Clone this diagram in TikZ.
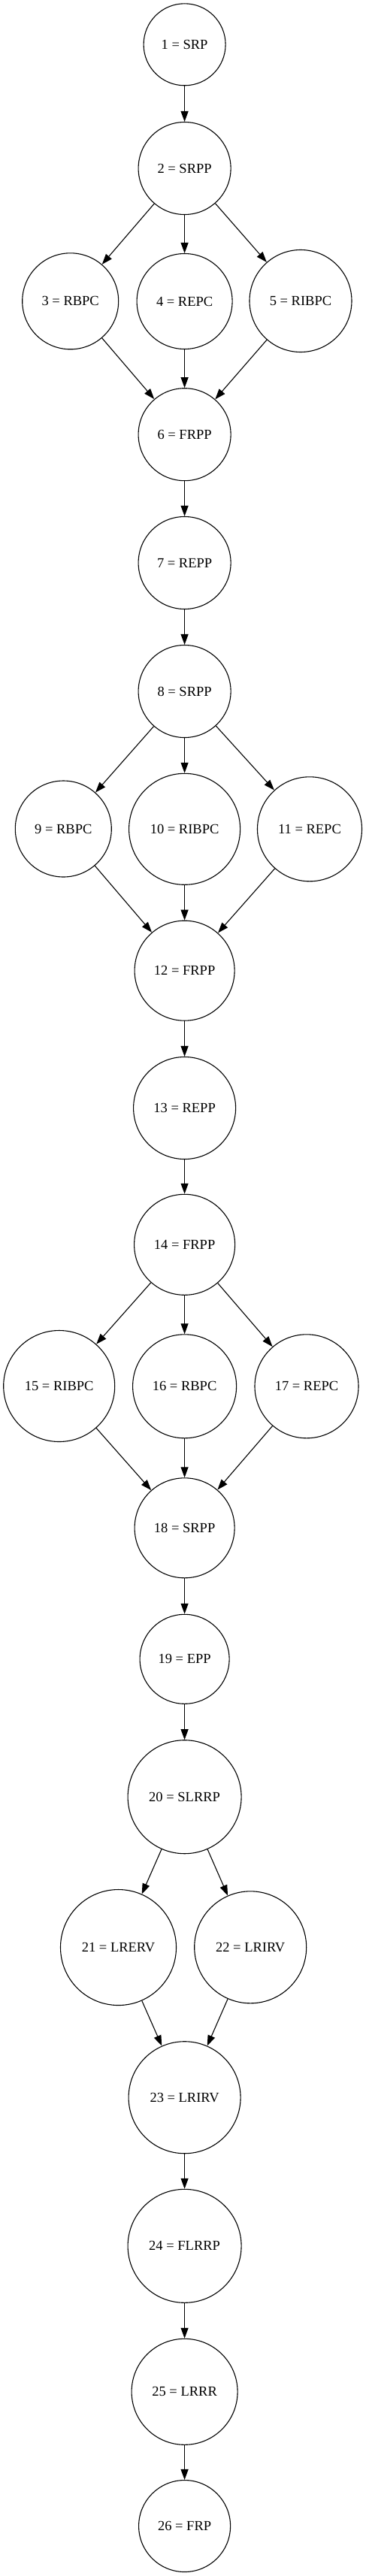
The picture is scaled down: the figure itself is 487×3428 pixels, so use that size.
\documentclass[tikz,border=0pt]{standalone}
\usepackage{fontspec}
\setmainfont{Liberation Serif}
\usetikzlibrary{arrows.meta}

\begin{document}
\begin{tikzpicture}[x=1pt,y=-1pt]
      \useasboundingbox (0,0) rectangle (487,3428);
      \begin{scope}[every node/.style={circle,draw,line width=1.1pt,inner sep=0pt,
          font=\fontsize{18.5}{22}\selectfont}]
        \node[minimum size=109pt] (1) at (245.6,59.3) {1 = SRP};
        \node[minimum size=123pt] (2) at (245.6,224) {2 = SRPP};
        \node[minimum size=128pt] (3) at (93.7,400.8) {3 = RBPC};
        \node[minimum size=127pt] (4) at (245.6,401) {4 = REPC};
        \node[minimum size=136pt] (5) at (400,400.5) {5 = RIBPC};
        \node[minimum size=123pt] (6) at (245.6,578.2) {6 = FRPP};
        \node[minimum size=123pt] (7) at (245.6,749) {7 = REPP};
        \node[minimum size=123pt] (8) at (245.6,920) {8 = SRPP};
        \node[minimum size=128pt] (9) at (84.3,1103) {9 = RBPC};
        \node[minimum size=148pt] (10) at (245.6,1103.3) {10 = RIBPC};
        \node[minimum size=139pt] (11) at (412,1103.3) {11 = REPC};
        \node[minimum size=133pt] (12) at (245.6,1291.7) {12 = FRPP};
        \node[minimum size=136pt] (13) at (245.6,1474.5) {13 = REPP};
        \node[minimum size=134pt] (14) at (245.6,1656.3) {14 = FRPP};
        \node[minimum size=148pt] (15) at (78.7,1844.5) {15 = RIBPC};
        \node[minimum size=138pt] (16) at (245.6,1844.8) {16 = RBPC};
        \node[minimum size=138pt] (17) at (408,1844.8) {17 = REPC};
        \node[minimum size=133pt] (18) at (245.6,2033.3) {18 = SRPP};
        \node[minimum size=119pt] (19) at (245.6,2207.8) {19 = EPP};
        \node[minimum size=151pt] (20) at (245.6,2391.2) {20 = SLRRP};
        \node[minimum size=154pt] (21) at (157.5,2591.5) {21 = LRERV};
        \node[minimum size=149pt] (22) at (333.2,2591.3) {22 = LRIRV};
        \node[minimum size=149pt] (23) at (245.6,2791.2) {23 = LRIRV};
        \node[minimum size=151pt] (24) at (245.6,2988.8) {24 = FLRRP};
        \node[minimum size=141pt] (25) at (245.6,3182.8) {25 = LRRR};
        \node[minimum size=122pt] (26) at (245.6,3361.5) {26 = FRP};
      \end{scope}
      \begin{scope}[every edge/.style={draw,line width=1.1pt,-{Triangle[length=14pt,width=10pt]}}]
        \path (1) edge (2);
        \path (2) edge (3);
        \path (2) edge (4);
        \path (2) edge (5);
        \path (3) edge (6);
        \path (4) edge (6);
        \path (5) edge (6);
        \path (6) edge (7);
        \path (7) edge (8);
        \path (8) edge (9);
        \path (8) edge (10);
        \path (8) edge (11);
        \path (9) edge (12);
        \path (10) edge (12);
        \path (11) edge (12);
        \path (12) edge (13);
        \path (13) edge (14);
        \path (14) edge (15);
        \path (14) edge (16);
        \path (14) edge (17);
        \path (15) edge (18);
        \path (16) edge (18);
        \path (17) edge (18);
        \path (18) edge (19);
        \path (19) edge (20);
        \path (20) edge (21);
        \path (20) edge (22);
        \path (21) edge (23);
        \path (22) edge (23);
        \path (23) edge (24);
        \path (24) edge (25);
        \path (25) edge (26);
      \end{scope}
    \end{tikzpicture}
\end{document}
